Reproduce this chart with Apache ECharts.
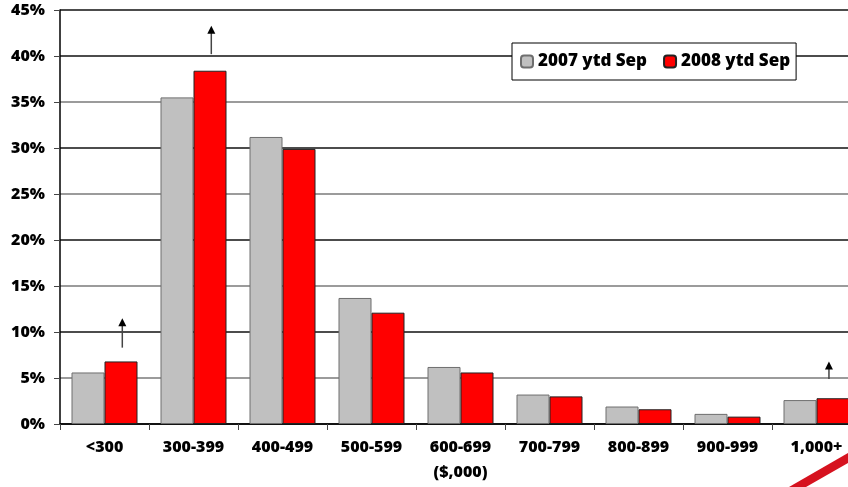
<!DOCTYPE html>
<html>
<head>
<meta charset="utf-8">
<script src="https://cdn.jsdelivr.net/npm/echarts@6/dist/echarts.min.js"></script>
<style>
	html,body{margin:0;padding:0;background:#fff;}
	#chart{width:848px;height:487px;}
</style>
</head>
<body>
<div id="chart"></div>
<script>
var categories = ['<300','300-399','400-499','500-599','600-699','700-799','800-899','900-999','1,000+'];
var ytd2007 = [5.6,35.5,31.2,13.7,6.2,3.2,1.9,1.1,2.6];
var ytd2008 = [6.8,38.4,29.9,12.1,5.6,3.0,1.6,0.8,2.8];
// arrows above the red bars: [category index, from %, to %]
var arrows = [[0,8.3,11.5],[1,40.2,43.3],[8,4.9,6.8]];
var yTicks = [0,5,10,15,20,25,30,35,40,45];

var font = '"Open Sans", Lato, sans-serif';
var myChart = echarts.init(document.getElementById('chart'));

function drawArrow(params, api){
	var a = api.coord([api.value(0), api.value(1)]);
	var b = api.coord([api.value(0), api.value(2)]);
	var dx = api.size([1,0])[0]*0.2;
	if(api.value(0) == categories.length-1) dx = api.size([1,0])[0]*0.14;
	var x = a[0]+dx;
	return {
		type:'group',
		children:[{
			type:'line',
			shape:{x1:x,y1:a[1],x2:x,y2:b[1]+6},
			style:{stroke:'#444',lineWidth:1.5}
		},{
			type:'polygon',
			shape:{points:[[x,b[1]],[x-4,b[1]+8],[x+4,b[1]+8]]},
			style:{fill:'#000'}
		}]
	};
}

myChart.setOption({
	animation:false,
	textStyle:{fontFamily:font},
	grid:{left:60,top:10,width:801,height:414,outerBoundsMode:'none',containLabel:false},
	legend:{
		data:['2007 ytd Sep','2008 ytd Sep'],
		left:512,
		top:43,
		padding:[10,6,10,8],
		itemWidth:12,
		itemHeight:12,
		itemGap:16,
		backgroundColor:'#fff',
		borderColor:'#000',
		borderWidth:1,
		textStyle:{fontFamily:font,fontSize:17,fontWeight:800,color:'#000'}
	},
	xAxis:{
		type:'category',
		data:categories,
		name:'($,000)',
		nameLocation:'middle',
		nameGap:40,
		nameTextStyle:{fontFamily:font,fontSize:16,fontWeight:800,color:'#000'},
		axisLine:{lineStyle:{color:'#000',width:1.5}},
		axisTick:{show:true,length:6,lineStyle:{color:'#444'}},
		axisLabel:{margin:15,fontFamily:font,fontSize:16,fontWeight:800,color:'#000'}
	},
	yAxis:{
		type:'value',
		min:0,
		max:45,
		interval:5,
		axisLine:{show:true,lineStyle:{color:'#000',width:1.5}},
		axisTick:{show:true,length:6,lineStyle:{color:'#444'}},
		axisLabel:{
			margin:15,
			fontFamily:font,fontSize:16,fontWeight:800,color:'#000',
			formatter:'{value}%'
		},
		splitLine:{lineStyle:{width:1.5,color:yTicks.map(function(v,i){
			return (i%2==0 || i==yTicks.length-1) ? '#111' : '#7a7a7a';
		})}}
	},
	series:[{
		name:'2007 ytd Sep',
		type:'bar',
		data:ytd2007,
		barWidth:33,
		barGap:'0%',
		itemStyle:{color:'#c0c0c0',borderColor:'#6e6e6e',borderWidth:1}
	},{
		name:'2008 ytd Sep',
		type:'bar',
		data:ytd2008,
		barWidth:33,
		itemStyle:{color:'#ff0000',borderColor:'#222',borderWidth:1}
	},{
		name:'arrows',
		type:'custom',
		data:arrows,
		encode:{x:0,y:[1,2]},
		renderItem:drawArrow,
		silent:true,
		z:5
	}],
	graphic:[{
		type:'polygon',
		shape:{points:[[789,487],[848,453],[848,463],[806,487]]},
		style:{fill:'#d6121f'}
	}]
});
</script>
</body>
</html>
